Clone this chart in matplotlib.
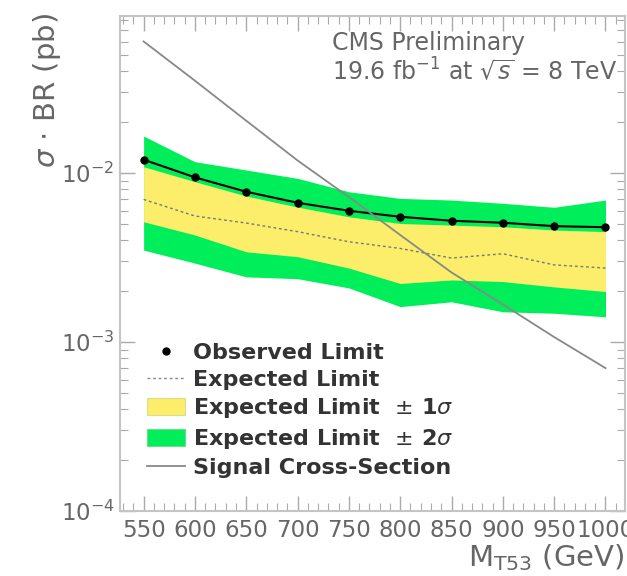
import numpy as np
import matplotlib
matplotlib.use("Agg")
import matplotlib.pyplot as plt
from matplotlib.ticker import FixedLocator, LogLocator, NullFormatter
from matplotlib.patches import Patch
from matplotlib.lines import Line2D

# T5/3 mass points (GeV) and limits on sigma*BR (pb)
mass = [550, 600, 650, 700, 750, 800, 850, 900, 950, 1000]
observed = [0.0120, 0.00943, 0.00775, 0.00667, 0.00598, 0.00551, 0.00522, 0.00508, 0.00485, 0.00478]
expected = [0.00698, 0.00557, 0.00506, 0.00450, 0.00392, 0.00358, 0.00314, 0.00333, 0.00286, 0.00274]
exp_1s_up = [0.01090, 0.00889, 0.00731, 0.00629, 0.00551, 0.00503, 0.00492, 0.00481, 0.00460, 0.00450]
exp_1s_dn = [0.00515, 0.00430, 0.00342, 0.00320, 0.00274, 0.00222, 0.00233, 0.00228, 0.00212, 0.00199]
exp_2s_up = [0.01656, 0.01167, 0.01042, 0.00930, 0.00775, 0.00708, 0.00692, 0.00662, 0.00627, 0.00692]
exp_2s_dn = [0.00350, 0.00293, 0.00243, 0.00237, 0.00209, 0.00162, 0.00173, 0.00151, 0.00148, 0.00141]
signal_xs = [0.0601, 0.0352, 0.0204, 0.01187, 0.00721, 0.00430, 0.00258, 0.00167, 0.00107, 0.000701]

GREEN, YELLOW = "#00ee5a", "#fcee6a"
FRAME, TXT = "#c4c4c4", "#666666"

fig = plt.figure(figsize=(6.27, 5.76), dpi=100)
ax = fig.add_axes([120 / 627, 65 / 576, 505 / 627, 495 / 576])

ax.fill_between(mass, exp_2s_dn, exp_2s_up, color=GREEN, lw=0, zorder=1)
ax.fill_between(mass, exp_1s_dn, exp_1s_up, color=YELLOW, lw=0, zorder=2)
ax.plot(mass, expected, color="#777777", lw=1.0, ls=(0, (2, 2)), zorder=3)
ax.plot(mass, observed, color="black", lw=1.5, marker="o", ms=5, zorder=4)
ax.plot(mass, signal_xs, color="#888888", lw=1.3, zorder=5)

ax.set_yscale("log")
ax.set_xlim(527, 1019)
ax.set_ylim(1e-4, 0.085)

ax.xaxis.set_major_locator(FixedLocator(mass))
ax.xaxis.set_minor_locator(FixedLocator(np.arange(530, 1020, 10)))
ax.yaxis.set_major_locator(LogLocator(base=10, numticks=10))
ax.yaxis.set_minor_locator(LogLocator(base=10, subs=np.arange(2, 10), numticks=20))
ax.yaxis.set_minor_formatter(NullFormatter())

for s in ax.spines.values():
    s.set_color(FRAME)
    s.set_linewidth(1.5)
ax.tick_params(which="both", direction="in", top=True, right=True, color="#aaaaaa",
               labelcolor=TXT, labelsize=16.5)
ax.tick_params(which="major", length=11, width=1.0, pad=4)
ax.tick_params(which="minor", length=6, width=0.8)
ax.tick_params(axis="x", pad=6)

ax.set_xlabel(r"M$_{\mathrm{T53}}$ (GeV)", fontsize=21, color=TXT, loc="right", labelpad=0)
ax.set_ylabel(r"$\sigma$ $\cdot$ BR (pb)", fontsize=21, color=TXT, loc="top")
ax.yaxis.set_label_coords(-0.113, 1.005)

ax.text(0.42, 0.945, "CMS Preliminary", transform=ax.transAxes, fontsize=17,
        color=TXT, ha="left", va="center")
ax.text(0.42, 0.89, r"19.6 fb$^{-1}$ at $\sqrt{s}$ = 8 TeV", transform=ax.transAxes,
        fontsize=17, color=TXT, ha="left", va="center")

handles = [
    Line2D([], [], color="black", marker="o", ms=5, ls="none"),
    Line2D([], [], color="#888888", lw=1.0, ls=(0, (2, 2))),
    Patch(facecolor=YELLOW, edgecolor="#dddd88", lw=0.8),
    Patch(facecolor=GREEN, edgecolor="#66dd88", lw=0.8),
    Line2D([], [], color="#888888", lw=1.3),
]
labels = ["Observed Limit", "Expected Limit", r"Expected Limit  $\pm$ 1$\sigma$",
          r"Expected Limit  $\pm$ 2$\sigma$", "Signal Cross-Section"]
leg = ax.legend(handles, labels, loc="upper left", bbox_to_anchor=(0.053, 0.34),
                frameon=False, borderpad=0, borderaxespad=0, handlelength=1.7,
                handleheight=0.8, handletextpad=0.36, labelspacing=0.3,
                prop={"size": 16, "weight": "bold"})
for t in leg.get_texts():
    t.set_color("#333333")

fig.savefig("out.png", dpi=100)
